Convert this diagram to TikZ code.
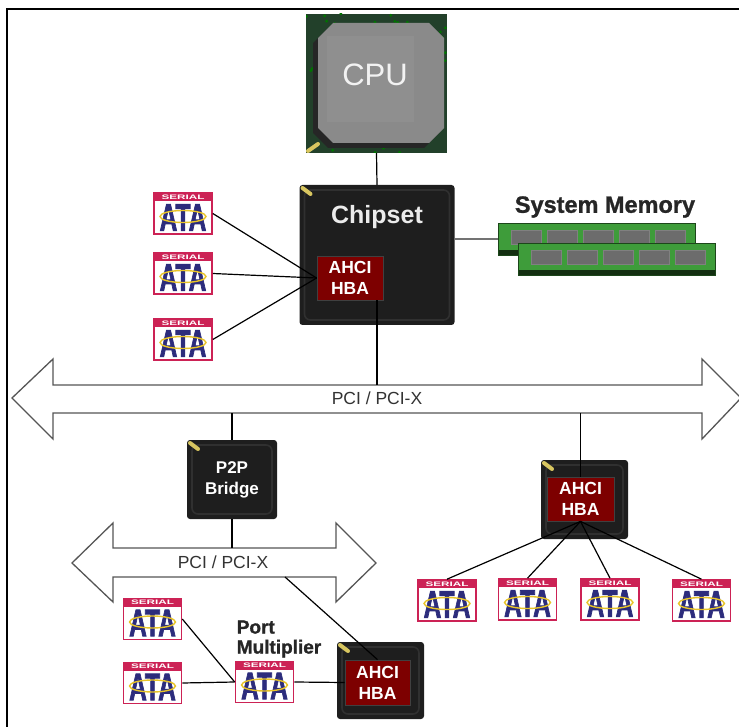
\documentclass[tikz,border=0pt]{standalone}
\usepackage{fontspec}
\setmainfont{Liberation Sans}
\newfontfamily\heavyfont[FakeBold=1.2]{Liberation Sans Bold}
\newfontfamily\blackfont[FakeBold=2.5]{Liberation Sans Bold}
\usepackage{graphicx}
\usepackage{tikz}
\usetikzlibrary{calc}

\definecolor{chipgray}{HTML}{1E1E1E}
\definecolor{chipedge}{HTML}{303030}
\definecolor{chipmark}{HTML}{D8C660}
\definecolor{hbared}{HTML}{7D0000}
\definecolor{satared}{HTML}{CC2255}
\definecolor{satanavy}{HTML}{2C2C7C}
\definecolor{sataswirl}{HTML}{E8C428}
\definecolor{pcbgreen}{HTML}{22402A}
\definecolor{cpugray}{HTML}{8A8A8A}
\definecolor{memgreen}{HTML}{3E9C3A}
\definecolor{memchip}{HTML}{6C6C6C}
\definecolor{busline}{HTML}{555555}

\tikzset{
  chip/.style={fill=chipgray, rounded corners=3pt, inner sep=0pt, text=white,
    font=\bfseries\fontsize{17}{21}\selectfont, align=center,
    path picture={
      \draw[chipedge, line width=1.6pt, rounded corners=6pt]
        ([shift={(5pt,-5pt)}]path picture bounding box.north west) rectangle
        ([shift={(-5pt,5pt)}]path picture bounding box.south east);
      \draw[chipmark, line width=4pt, line cap=round]
        ([shift={(3pt,-3pt)}]path picture bounding box.north west) -- ++(8pt,-6pt);
    }},
  hba/.style={fill=hbared, draw=black!75, line width=0.8pt, inner sep=0pt, text=white,
    font=\bfseries\fontsize{17.5}{21}\selectfont, align=center},
  sata/.style={draw=satared, line width=1.6pt, fill=white, minimum width=58pt,
    minimum height=41pt, inner sep=0pt,
    path picture={
      \fill[satared] (path picture bounding box.north west) rectangle
        ([yshift=-8pt]path picture bounding box.north east);
      \node[text=white, font=\bfseries\fontsize{6.5}{7}\selectfont, inner sep=0pt]
        at ([yshift=-4pt]path picture bounding box.north) {\scalebox{1.8}[1]{SERIAL}};
      \node[text=satanavy, font=\blackfont\fontsize{24}{25}\selectfont, inner sep=0pt]
        at ([yshift=-4pt]path picture bounding box.center) {\scalebox{1.02}[1.6]{ATA}};
      \draw[sataswirl, line width=1.4pt, rotate around={-8:(path picture bounding box.center)}]
        ([yshift=-3pt]path picture bounding box.center) ellipse (23pt and 6pt);
    }},
  cpuboard/.style={fill=pcbgreen, inner sep=0pt,
    path picture={
      \foreach \k in {1,...,90}
        \fill[green!45!black] ($(path picture bounding box.center)+(rand*70pt,rand*70pt)$) circle (1.6pt);
      \draw[chipmark, line width=4pt, line cap=round]
        ([shift={(2pt,2pt)}]path picture bounding box.south west) -- ++(10pt,7pt);
    }},
  memstick/.style={fill=memgreen, draw=black!55!memgreen, line width=0.6pt,
    minimum width=197pt, minimum height=32pt, inner sep=0pt,
    path picture={
      \fill[black!70!memgreen] ([yshift=5pt]path picture bounding box.south west) rectangle
        (path picture bounding box.south east);
      \foreach \k in {0,...,4}
        \fill[memchip, draw=black!50] ([shift={(13pt+\k*36pt,-7pt)}]path picture bounding box.north west)
          rectangle ++(30pt,-14pt);
    }},
  bus/.style={draw=busline, fill=white, line width=1.3pt, line join=miter},
  buslabel/.style={text=black!80, font=\fontsize{17.5}{20}\selectfont, inner sep=0pt},
  link/.style={draw=black, line width=1.2pt},
  memlink/.style={draw=black!55, line width=2pt}
}

\begin{document}
\begin{tikzpicture}[x=1pt, y=-1pt]
    \useasboundingbox (0,0) rectangle (739,727);
    \draw[line width=2.5pt] (7,727) -- (7,9) -- (741,9);

    \node [cpuboard, minimum width=141pt, minimum height=139pt] (cpu) at (376.5,83.5) {};
    \fill[black!85] (328,28) -- (424,28) -- (439,43) -- (439,133) -- (424,148)
      -- (328,148) -- (313,133) -- (313,43) -- cycle;
    \fill[cpugray] (333,23) -- (429,23) -- (444,38) -- (444,128) -- (429,143)
      -- (333,143) -- (318,128) -- (318,38) -- cycle;
    \fill[cpugray!96!white] (327,36) rectangle (414,122);
    \node [text=white!95!black, font=\fontsize{31}{36}\selectfont] (cpulabel) at (375,75) {CPU};

    \node [chip, minimum width=155pt, minimum height=140pt] (chipset) at (377,255) {};
    \node [text=white!92!black, font=\bfseries\fontsize{25}{30}\selectfont] (chipsetlabel) at (377,217) {Chipset};
    \node [hba, minimum width=66pt, minimum height=44pt] (hba0) at (350,278) {AHCI\\HBA};

    \node [memstick] (mem1) at (596.5,239) {};
    \node [memstick] (mem2) at (616.5,259) {};
    \node [text=black!85, font=\heavyfont\fontsize{23.5}{28}\selectfont] (memlabel) at (605,207) {System Memory};

    \node [sata] (sata1) at (183,213.5) {};
    \node [sata] (sata2) at (183,273.5) {};
    \node [sata] (sata3) at (183,339.5) {};

    \draw[bus] (12,398) -- (53,359) -- (53,385) -- (702,385) -- (702,359) -- (741,398)
      -- (702,439) -- (702,413) -- (53,413) -- (53,439) -- cycle;
    \node [buslabel] (pcilabel) at (377,398) {PCI / PCI-X};
    \coordinate (pcitop) at (0,385);
    \coordinate (pcibot) at (0,413);

    \node [chip, minimum width=90pt, minimum height=79pt] (p2p) at (232,479.5) {P2P\\Bridge};
    \node [chip, minimum width=87pt, minimum height=79pt] (ahci1) at (584.5,499.5) {};
    \node [hba, minimum width=67pt, minimum height=44pt] (hba1) at (580.5,499) {AHCI\\HBA};

    \node [sata] (sata4) at (447,600.5) {};
    \node [sata] (sata5) at (527.5,599.5) {};
    \node [sata] (sata6) at (610,599.5) {};
    \node [sata] (sata7) at (701.5,600.5) {};

    \draw[bus] (72,563) -- (113,523) -- (113,548) -- (336,548) -- (336,523) -- (376,563)
      -- (336,602) -- (336,577) -- (113,577) -- (113,602) -- cycle;
    \node [buslabel] (pci2label) at (223,562) {PCI / PCI-X};
    \coordinate (pci2top) at (0,548);
    \coordinate (pci2tap) at (285,577);

    \node [chip, minimum width=87pt, minimum height=77pt] (ahci2) at (380.5,680.5) {};
    \node [hba, minimum width=65pt, minimum height=45pt] (hba2) at (377.5,682.5) {AHCI\\HBA};

    \node [sata] (sata8) at (152.5,619) {};
    \node [sata] (sata9) at (152.5,683) {};
    \node [sata] (pm) at (264.5,682) {};
    \node [text=black!85, font=\heavyfont\fontsize{19}{20}\selectfont, align=left] (pmlabel) at (279,639) {Port\\Multiplier};

    \draw[link] (cpu.south) -- (chipset.north);
    \draw[memlink] (chipset.east |- mem1.west) -- (mem1.west);
    \foreach \s in {sata1,sata2,sata3}
      \draw[link] (\s.east) -- (hba0.west);
    \draw[link] (hba0.south -| chipset.south) -- (chipset.south |- pcitop);
    \draw[link] (p2p.north) -- (p2p.north |- pcibot);
    \draw[link] (hba1.north) -- (hba1.north |- pcibot);
    \foreach \s in {sata4,sata5,sata6,sata7}
      \draw[link] (hba1.south) -- (\s.north);
    \draw[link] (p2p.south) -- (p2p.south |- pci2top);
    \draw[link] (pci2tap) -- (hba2.north);
    \draw[link] (sata8.east) -- (pm.west);
    \draw[link] (sata9.east) -- (pm.west);
    \draw[link] (pm.east) -- (hba2.west);
\end{tikzpicture}
\end{document}
